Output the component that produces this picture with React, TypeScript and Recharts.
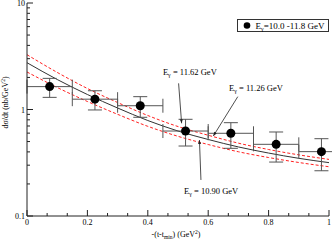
import React from 'react';
import {
  ComposedChart, Line, Scatter, XAxis, YAxis, ErrorBar, Legend, ReferenceLine, ReferenceDot,
} from 'recharts';

// model curves at 0.1 steps
const tGrid = [0, 0.1, 0.2, 0.3, 0.4, 0.5, 0.6, 0.7, 0.8, 0.9, 1.0];
const curve1162 = [3.27, 2.23, 1.575, 1.163, 0.878, 0.692, 0.573, 0.483, 0.421, 0.375, 0.34];
const curve1126 = [2.75, 1.913, 1.383, 1.033, 0.788, 0.628, 0.523, 0.445, 0.39, 0.348, 0.317];
const curve1090 = [2.25, 1.609, 1.189, 0.901, 0.695, 0.56, 0.469, 0.401, 0.354, 0.318, 0.29];

// data points
const tCenter = [0.075, 0.225, 0.375, 0.525, 0.675, 0.825, 0.975];
const tHalfBin = [0.075, 0.075, 0.075, 0.075, 0.075, 0.075, 0.075];
const dsdt = [1.64, 1.25, 1.085, 0.628, 0.598, 0.471, 0.402];
const dsdtLow = [1.3, 0.99, 0.845, 0.454, 0.432, 0.321, 0.266];
const dsdtHigh = [1.96, 1.5, 1.32, 0.809, 0.752, 0.615, 0.532];

const xMajorTicks = [0, 0.2, 0.4, 0.6, 0.8, 1];
const yMajorTicks = [0.1, 1, 10];
const yTickLabels = ['0.1', '1', '10'];
const yMinorSteps = [2, 3, 4, 5, 6, 7, 8, 9];

const annotations = [
  { label: '11.62', tx: 0.45, ty: 2.25, from: { x: 0.502, y: 1.76 }, to: { x: 0.512, y: 0.742 } },
  { label: '11.26', tx: 0.669, ty: 1.59, from: { x: 0.698, y: 1.32 }, to: { x: 0.617, y: 0.564 } },
  { label: '10.90', tx: 0.52, ty: 0.17, from: { x: 0.576, y: 0.218 }, to: { x: 0.571, y: 0.517 } },
];

const curveData = tGrid.map((t, i) => ({ t, e1162: curve1162[i], e1126: curve1126[i], e1090: curve1090[i] }));
const pointData = tCenter.map((t, i) => ({
  t,
  v: dsdt[i],
  tErr: tHalfBin[i],
  vErr: [dsdt[i] - dsdtLow[i], dsdtHigh[i] - dsdt[i]],
}));

const xMinorTicks: number[] = [];
for (let i = 0; i < xMajorTicks.length - 1; i++) {
  const a = xMajorTicks[i], b = xMajorTicks[i + 1];
  xMinorTicks.push(a + (b - a) / 3, a + (2 * (b - a)) / 3);
}
const xTicks = [...xMajorTicks, ...xMinorTicks].sort((a, b) => a - b);
const yTicks: number[] = [];
yMajorTicks.forEach((m, i) => {
  yTicks.push(m);
  if (i < yMajorTicks.length - 1) yMinorSteps.forEach((s) => yTicks.push(m * s));
});

const FONT = 'Liberation Serif';
const isXMajor = (v: number) => xMajorTicks.some((m) => Math.abs(m - v) < 1e-6);
const yMajorIndex = (v: number) => yMajorTicks.findIndex((m) => Math.abs(m - v) / m < 1e-6);

const BottomTick = ({ x, y, payload }: any) => {
  const major = isXMajor(payload.value);
  return (
    <g>
      <line x1={x} y1={y} x2={x} y2={y - (major ? 6 : 3)} stroke="#222" />
      {major && (
        <text x={x} y={y + 9} textAnchor="middle" fontSize={8} fontFamily={FONT} fill="#000">
          {payload.value}
        </text>
      )}
    </g>
  );
};

const TopTick = ({ x, y, payload }: any) => (
  <line x1={x} y1={y} x2={x} y2={y + (isXMajor(payload.value) ? 6 : 3)} stroke="#222" />
);

const LeftTick = ({ x, y, payload }: any) => {
  const idx = yMajorIndex(payload.value);
  return (
    <g>
      <line x1={x} y1={y} x2={x + (idx >= 0 ? 6 : 3)} y2={y} stroke="#222" />
      {idx >= 0 && (
        <text x={x - 2} y={y + 3} textAnchor="end" fontSize={8} fontFamily={FONT} fill="#000">
          {yTickLabels[idx]}
        </text>
      )}
    </g>
  );
};

const RightTick = ({ x, y, payload }: any) => (
  <line x1={x} y1={y} x2={x - (yMajorIndex(payload.value) >= 0 ? 6 : 3)} y2={y} stroke="#222" />
);

const Arrow = (p: any) => {
  const { x1, y1, x2, y2 } = p;
  const dx = x2 - x1, dy = y2 - y1;
  const len = Math.sqrt(dx * dx + dy * dy) || 1;
  const ux = dx / len, uy = dy / len;
  const bx = x2 - ux * 4, by = y2 - uy * 4;
  return (
    <g>
      <line x1={x1} y1={y1} x2={x2} y2={y2} stroke="#222" strokeWidth={0.8} />
      <polygon
        points={`${x2},${y2} ${bx - uy * 1.5},${by + ux * 1.5} ${bx + uy * 1.5},${by - ux * 1.5}`}
        fill="#222"
      />
    </g>
  );
};

const energyLabel = (label: string) => (p: any) => (
  <text x={p.cx} y={p.cy + 3} fontSize={8.5} fontFamily={FONT} fill="#000">
    E<tspan dy={2} fontSize={6}>γ</tspan>
    <tspan dy={-2}>{` = ${label} GeV`}</tspan>
  </text>
);

const LegendBox = () => (
  <svg width={92} height={13}>
    <rect x={0.5} y={0.5} width={91} height={12} fill="#fff" stroke="#333" />
    <circle cx={10} cy={6.5} r={3.3} fill="#000" />
    <text x={18.5} y={9.5} fontSize={9} fontFamily={FONT} fill="#000">
      E<tspan dy={2} fontSize={6}>γ</tspan>
      <tspan dy={-2}>=10.0 -11.8 GeV</tspan>
    </text>
  </svg>
);

const YLabel = ({ viewBox }: any) => {
  const cx = viewBox.x + 8;
  const cy = viewBox.y + viewBox.height / 2 - 7;
  return (
    <text x={cx} y={cy} transform={`rotate(-90 ${cx} ${cy})`} textAnchor="middle" fontSize={8} fontFamily={FONT} fill="#000">
      dσ/dt (nb/GeV<tspan dy={-3} fontSize={5.5}>2</tspan>
      <tspan dy={3}>)</tspan>
    </text>
  );
};

const XLabel = ({ viewBox }: any) => {
  const cx = viewBox.x + viewBox.width / 2 - 2;
  const y = viewBox.y + 21;
  return (
    <text x={cx} y={y} textAnchor="middle" fontSize={8} fontFamily={FONT} fill="#000">
      -(t-t<tspan dy={2} fontSize={5.5}>min</tspan>
      <tspan dy={-2}>) (GeV</tspan>
      <tspan dy={-3} fontSize={5.5}>2</tspan>
      <tspan dy={3}>)</tspan>
    </text>
  );
};

export default function App() {
  return (
    <div style={{ position: 'absolute', left: 0, top: 0, background: '#fff' }}>
      <ComposedChart
        width={332}
        height={241}
        data={curveData}
        margin={{ top: 3, right: 3, bottom: 0, left: 0 }}
        style={{ fontFamily: FONT }}
      >
        <XAxis
          dataKey="t"
          type="number"
          domain={[0, 1]}
          allowDataOverflow
          ticks={xTicks}
          interval={0}
          height={25}
          tickSize={0}
          tickMargin={0}
          tickLine={false}
          tick={<BottomTick />}
          axisLine={{ stroke: '#222' }}
          label={<XLabel />}
        />
        <XAxis
          xAxisId="top"
          orientation="top"
          type="number"
          domain={[0, 1]}
          allowDataOverflow
          ticks={xTicks}
          interval={0}
          height={0}
          tickSize={0}
          tickMargin={0}
          tickLine={false}
          tick={<TopTick />}
          axisLine={{ stroke: '#222' }}
        />
        <YAxis
          type="number"
          scale="log"
          domain={[0.1, 10]}
          allowDataOverflow
          ticks={yTicks}
          interval={0}
          width={27}
          tickSize={0}
          tickMargin={0}
          tickLine={false}
          tick={<LeftTick />}
          axisLine={{ stroke: '#222' }}
          label={<YLabel />}
        />
        <YAxis
          yAxisId="right"
          orientation="right"
          type="number"
          scale="log"
          domain={[0.1, 10]}
          allowDataOverflow
          ticks={yTicks}
          interval={0}
          width={0}
          tickSize={0}
          tickMargin={0}
          tickLine={false}
          tick={<RightTick />}
          axisLine={{ stroke: '#222' }}
        />
        <Line dataKey="e1162" type="monotone" stroke="#ff2020" strokeDasharray="3 2" strokeWidth={1} dot={false} isAnimationActive={false} />
        <Line dataKey="e1126" type="monotone" stroke="#333" strokeWidth={1} dot={false} isAnimationActive={false} />
        <Line dataKey="e1090" type="monotone" stroke="#ff2020" strokeDasharray="3 2" strokeWidth={1} dot={false} isAnimationActive={false} />
        <Scatter
          name="data"
          data={pointData}
          dataKey="v"
          isAnimationActive={false}
          shape={(p: any) => <circle cx={p.cx} cy={p.cy} r={4.5} fill="#000" />}
        >
          <ErrorBar dataKey="tErr" direction="x" width={7} stroke="#555" strokeWidth={1} />
          <ErrorBar dataKey="vErr" direction="y" width={7} stroke="#555" strokeWidth={1} />
        </Scatter>
        {annotations.map((a) => (
          <ReferenceLine key={'l' + a.label} segment={[a.from, a.to]} shape={Arrow} />
        ))}
        {annotations.map((a) => (
          <ReferenceDot key={'d' + a.label} x={a.tx} y={a.ty} r={0} shape={energyLabel(a.label)} />
        ))}
        <Legend
          layout="vertical"
          verticalAlign="middle"
          align="center"
          wrapperStyle={{ position: 'absolute', left: 237, top: 18, width: 92, height: 13 }}
          content={() => <LegendBox />}
        />
      </ComposedChart>
    </div>
  );
}
